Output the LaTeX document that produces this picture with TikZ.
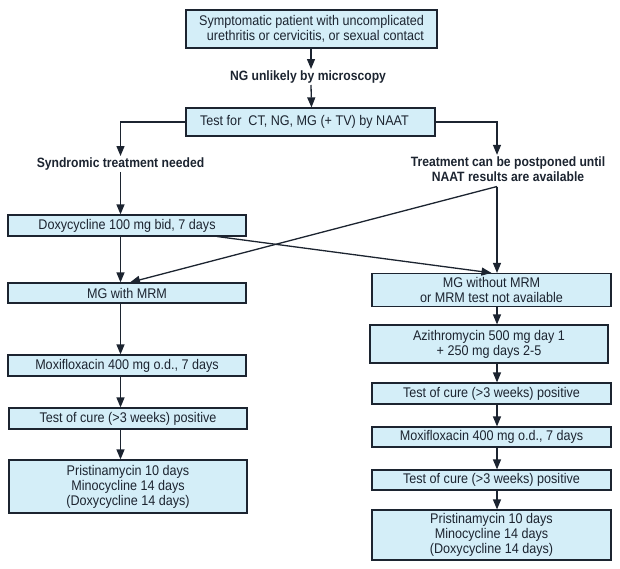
\documentclass[tikz,border=0pt]{standalone}
\usepackage{fontspec}
\setmainfont{Liberation Sans}[FakeStretch=0.9]
\usetikzlibrary{arrows.meta,calc}
\definecolor{boxfill}{RGB}{212,238,248}
\definecolor{ink}{RGB}{28,36,48}

\begin{document}
\begin{tikzpicture}[x=1pt,y=1pt,
  every node/.style={font=\fontsize{14}{15}\selectfont,text=ink},
  box/.style={draw=ink,line width=1.2pt,fill=boxfill,inner sep=0pt,align=center,minimum width=238pt,minimum height=21pt},
  lbl/.style={font=\fontsize{13.5}{15}\selectfont\bfseries,inner sep=1.5pt,align=center},
  arr/.style={draw=ink,line width=1.3pt,-{Triangle[length=10pt,width=8pt]}}]
  \useasboundingbox (0,0) rectangle (620,-568);
  \path (311.5,-29) node[box,minimum width=251pt,minimum height=38pt,align=right] (sympt) {Symptomatic patient with uncomplicated\\urethritis or cervicitis, or sexual contact};
  \path (308,-77) node[lbl] (ngl) {NG unlikely by microscopy};
  \path (310.5,-122) node[box,minimum width=249pt,minimum height=28pt] (test) {Test for\ \ CT, NG, MG (+ TV) by NAAT\hspace*{12pt}};
  \path (120.5,-164) node[lbl] (synd) {Syndromic treatment needed};
  \path (508,-169) node[lbl] (post) {Treatment can be postponed until\\NAAT results are available};
  \coordinate (rcol) at (497,0);
  \coordinate (jn) at (497,-186.5);
  \coordinate (dxs) at (217,-236.5);
  % left column
  \path (127,-225.5) node[box] (doxy) {Doxycycline 100 mg bid, 7 days};
  \path (127,-293) node[box,minimum height=20pt] (mgw) {MG with MRM};
  \path (127,-365.5) node[box] (moxl) {Moxifloxacin 400 mg o.d., 7 days};
  \path (128,-418.5) node[box] (tocl) {Test of cure (>3 weeks) positive};
  \path (128,-486.5) node[box,minimum height=53pt] (pril) {Pristinamycin 10 days\\Minocycline 14 days\\(Doxycycline 14 days)};
  % right column
  \path (491.5,-290) node[box,minimum width=239pt,minimum height=33pt] (mgwo) {MG without MRM\\or MRM test not available};
  \path (489,-344) node[box,minimum height=38pt] (azi) {Azithromycin 500 mg day 1\\+ 250 mg days 2-5};
  \path (491.5,-393.5) node[box,minimum width=239pt] (tocr) {Test of cure (>3 weeks) positive};
  \path (491.5,-437) node[box,minimum width=239pt,minimum height=20pt] (moxr) {Moxifloxacin 400 mg o.d., 7 days};
  \path (491.5,-480) node[box,minimum width=239pt,minimum height=20pt] (tocrb) {Test of cure (>3 weeks) positive};
  \path (491.5,-535) node[box,minimum width=239pt,minimum height=50pt] (prir) {Pristinamycin 10 days\\Minocycline 14 days\\(Doxycycline 14 days)};
  % connectors
  \draw[arr] (sympt.south -| ngl) ++(3,0) -- ($(ngl.north)+(3,0)$);
  \draw[arr] ($(ngl.south)+(3,0)$) -- (test.north -| sympt.south);
  \draw[arr] (test.west) -| (synd.north);
  \draw[arr] (test.east) -| (post.north -| rcol);
  \draw[arr] (synd.south) -- (doxy.north -| synd);
  \draw[arr] (doxy.south -| synd) -- (mgw.north -| synd);
  \draw[arr] (jn) -- ($(mgw.north)+(3,0)$);
  \draw[arr] (jn) -- (mgwo.north -| jn);
  \draw[arr] (dxs) -- (mgwo.north);
  \draw[arr] (mgw.south -| synd) -- (moxl.north -| synd);
  \draw[arr] (moxl.south -| synd) -- (tocl.north -| synd);
  \draw[arr] (tocl.south -| synd) -- (pril.north -| synd);
  \draw[arr] (mgwo.south -| rcol) -- (azi.north -| rcol);
  \draw[arr] (azi.south -| rcol) -- (tocr.north -| rcol);
  \draw[arr] (tocr.south -| rcol) -- (moxr.north -| rcol);
  \draw[arr] (moxr.south -| rcol) -- (tocrb.north -| rcol);
  \draw[arr] (tocrb.south -| rcol) -- (prir.north -| rcol);
\end{tikzpicture}
\end{document}
